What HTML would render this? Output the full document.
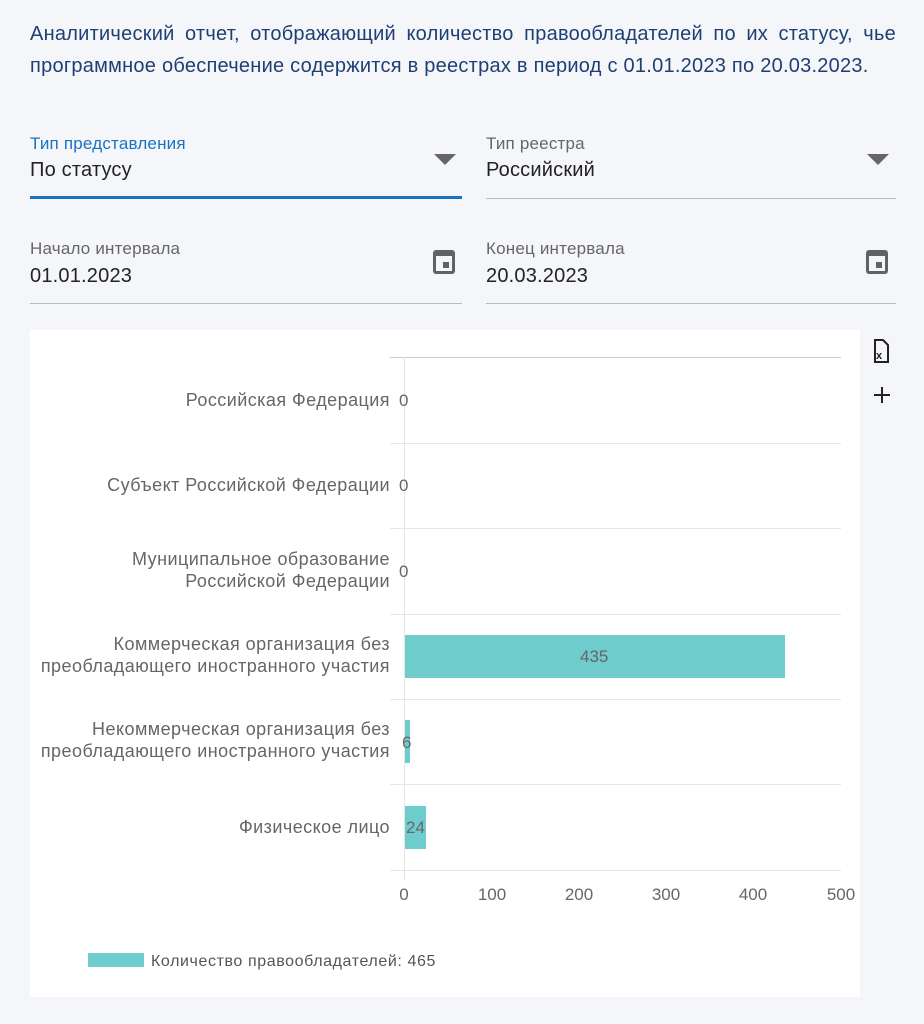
<!DOCTYPE html>
<html><head><meta charset="utf-8"><style>
body{margin:0;width:924px;height:1024px;background:#f4f6fa;font-family:"Liberation Sans",sans-serif;position:relative;overflow:hidden}
.a{position:absolute;white-space:nowrap}
.t{color:#1f3f73;font-size:20px;letter-spacing:0.25px;line-height:32px;left:30px;top:18px;width:866px;text-align:justify;text-align-last:left;white-space:normal}
.lab{font-size:17px;letter-spacing:0.2px;color:#666}
.val{font-size:20px;letter-spacing:0.2px;color:#222}
.tri{position:absolute;width:0;height:0;border-left:11px solid transparent;border-right:11px solid transparent;border-top:11px solid #666}
.cal{position:absolute;width:22px;height:24px;border:3px solid #5f6368;border-top-width:6px;box-sizing:border-box;border-radius:3px}
.cal:after{content:"";position:absolute;right:3px;bottom:3px;width:6px;height:6px;background:#5f6368}
</style></head><body>
<div class="a t">Аналитический отчет, отображающий количество правообладателей по их статусу, чье программное обеспечение содержится в реестрах в период с 01.01.2023 по 20.03.2023.</div>
<div class="a lab" style="left:30px;top:134px;color:#1a73c0">Тип представления</div>
<div class="a val" style="left:30px;top:159px">По статусу</div>
<div class="tri" style="left:434px;top:154px"></div>
<div class="a" style="left:30px;top:196px;width:432px;height:3px;background:#1a73c0"></div>
<div class="a lab" style="left:486px;top:134px">Тип реестра</div>
<div class="a val" style="left:486px;top:159px">Российский</div>
<div class="tri" style="left:867px;top:154px"></div>
<div class="a" style="left:486px;top:198px;width:410px;height:1px;background:#bbb"></div>
<div class="a lab" style="left:30px;top:239px">Начало интервала</div>
<div class="a val" style="left:30px;top:265px">01.01.2023</div>
<div class="cal" style="left:433px;top:250px"></div>
<div class="a" style="left:30px;top:303px;width:432px;height:1px;background:#bbb"></div>
<div class="a lab" style="left:486px;top:239px">Конец интервала</div>
<div class="a val" style="left:486px;top:265px">20.03.2023</div>
<div class="cal" style="left:866px;top:250px"></div>
<div class="a" style="left:486px;top:303px;width:410px;height:1px;background:#bbb"></div>
<div class="a" style="left:30px;top:330px;width:830px;height:667px;background:#fff"></div>
<svg class="a" style="left:0;top:0" width="924" height="1024" font-family="Liberation Sans, sans-serif">
<g stroke="#e6e6e6" stroke-width="1">
<line x1="390" y1="357.5" x2="841" y2="357.5" stroke="#ccc"/>
<line x1="390" y1="443.5" x2="841" y2="443.5"/>
<line x1="390" y1="528.5" x2="841" y2="528.5"/>
<line x1="390" y1="614.5" x2="841" y2="614.5"/>
<line x1="390" y1="699.5" x2="841" y2="699.5"/>
<line x1="390" y1="784.5" x2="841" y2="784.5"/>
<line x1="390" y1="870.5" x2="841" y2="870.5"/>
<line x1="404.5" y1="357" x2="404.5" y2="880"/>
</g>
<g fill="#6fcccc">
<rect x="405" y="635" width="380" height="43"/>
<rect x="405" y="720" width="5" height="43"/>
<rect x="405" y="806" width="21" height="43"/>
</g>
<g font-size="18" letter-spacing="0.45" fill="#666" text-anchor="end">
<text x="390" y="406">Российская Федерация</text>
<text x="390" y="491">Субъект Российской Федерации</text>
<text x="390" y="565">Муниципальное образование</text>
<text x="390" y="587">Российской Федерации</text>
<text x="390" y="650">Коммерческая организация без</text>
<text x="390" y="672">преобладающего иностранного участия</text>
<text x="390" y="735">Некоммерческая организация без</text>
<text x="390" y="757">преобладающего иностранного участия</text>
<text x="390" y="833">Физическое лицо</text>
</g>
<g font-size="17" fill="#666">
<text x="399" y="406">0</text><text x="399" y="491">0</text><text x="399" y="577">0</text>
<text x="402" y="748">6</text><text x="406" y="833">24</text>
<text x="580" y="662">435</text>
</g>
<g font-size="17" fill="#666" text-anchor="middle">
<text x="404" y="900">0</text><text x="492" y="900">100</text><text x="579" y="900">200</text><text x="666" y="900">300</text><text x="753" y="900">400</text><text x="841" y="900">500</text>
</g>
<rect x="88" y="953" width="56" height="14" fill="#6fcccc"/>
<text x="151" y="966" font-size="16" letter-spacing="0.6" fill="#555">Количество правообладателей: 465</text>
<path d="M875 340h8l5 5v17h-13z" fill="none" stroke="#222" stroke-width="2"/>
<text x="876" y="359" font-size="11" font-weight="bold" fill="#222">x</text>
<path d="M882 387v16M874 395h16" stroke="#222" stroke-width="2"/>
</svg>
</body></html>
